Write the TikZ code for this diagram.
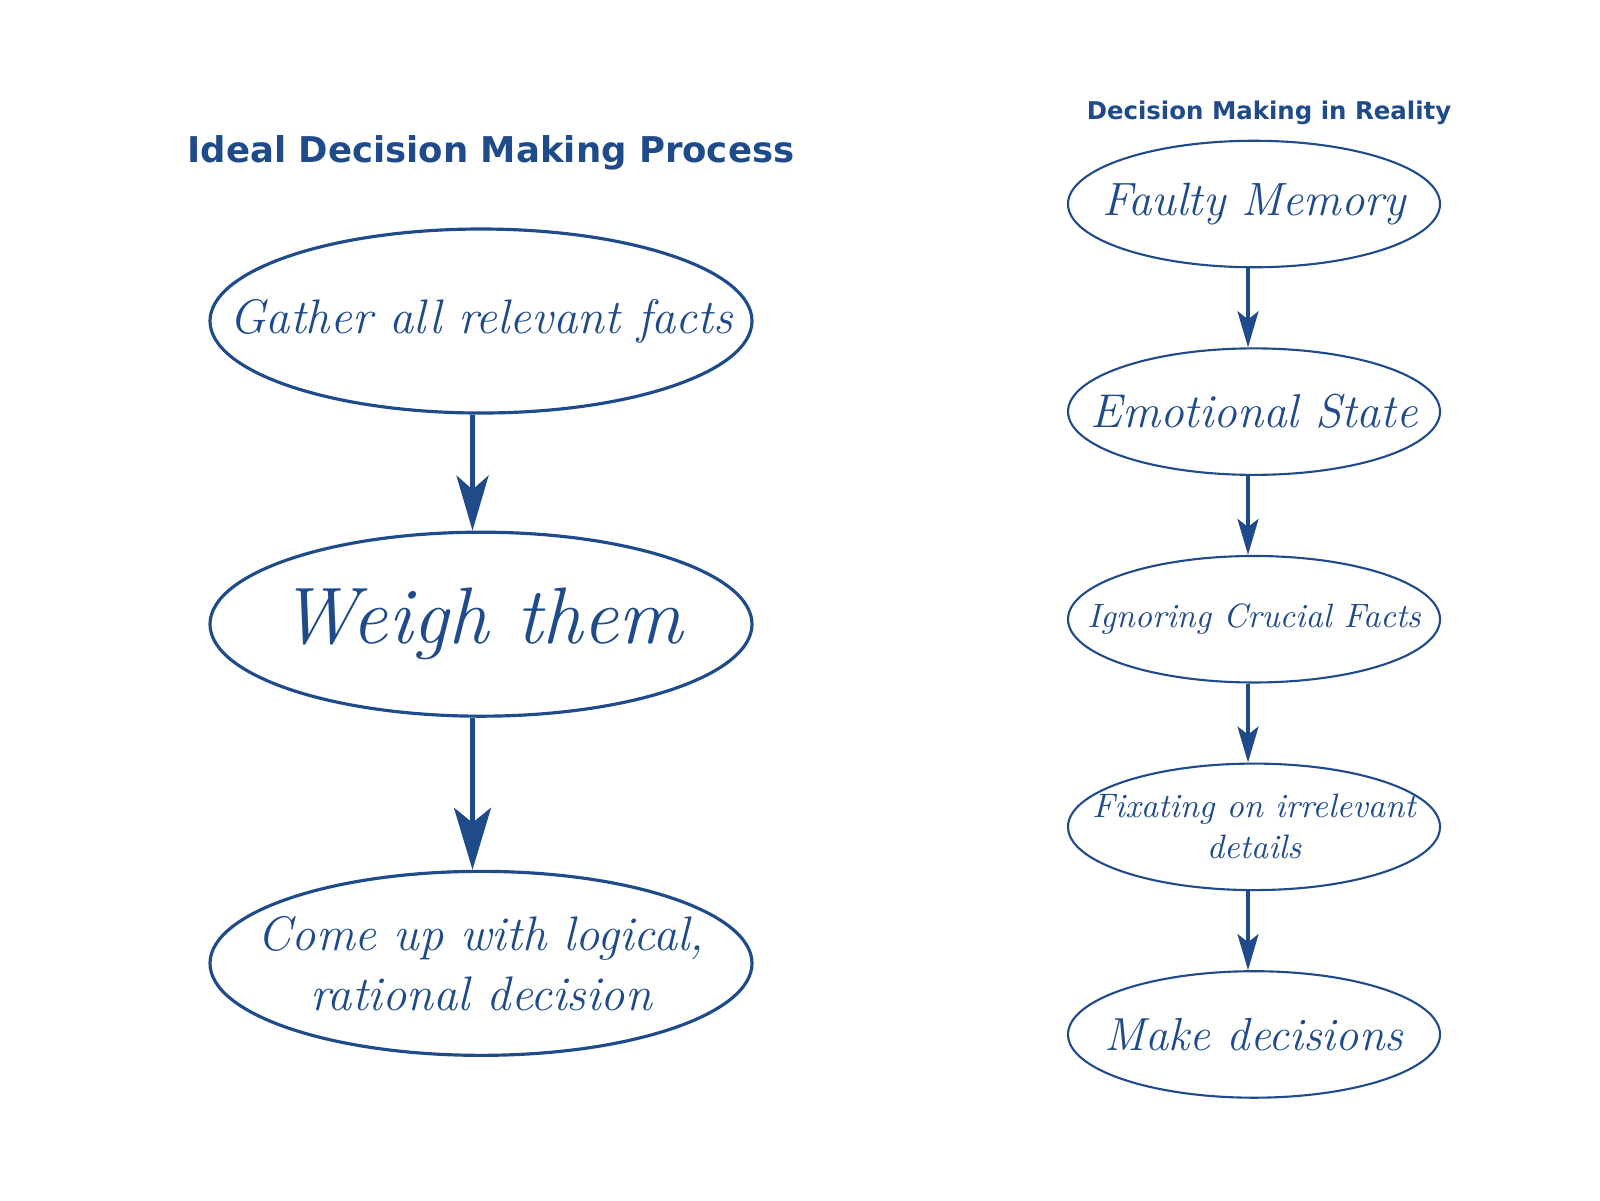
\documentclass[tikz,border=0pt]{standalone}
\usepackage{fontspec}
\newfontfamily\titlefont{DejaVu Sans}
\usetikzlibrary{positioning, arrows.meta, shapes.geometric}
\definecolor{deepblue}{RGB}{31,75,138}

\begin{document}
\begin{tikzpicture}[node distance=0.79cm,
    every node/.style={text=deepblue},
    heading/.style={font=\titlefont\bfseries\fontsize{10.1}{12}\selectfont},
    subheading/.style={font=\titlefont\bfseries\fontsize{6.95}{8}\selectfont},
    idea/.style={draw=deepblue, ellipse, line width=0.9pt, minimum width=5.42cm, minimum height=1.84cm, inner xsep=-3cm, inner ysep=-1cm, align=center, font=\itshape\fontsize{13.8}{17}\selectfont},
    reality/.style={draw=deepblue, ellipse, line width=0.6pt, minimum width=3.72cm, minimum height=1.265cm, inner xsep=-2cm, inner ysep=-1cm, align=center, font=\itshape\fontsize{13.3}{12}\selectfont},
    bigarrow/.style={draw=deepblue, line width=1.4pt, -{Stealth[length=5.5mm, width=3.2mm, inset=1.4mm]}},
    hugearrow/.style={draw=deepblue, line width=1.4pt, -{Stealth[length=6.2mm, width=3.7mm, inset=1.5mm]}},
    smallarrow/.style={draw=deepblue, line width=1pt, -{Stealth[length=3.6mm, width=2.1mm, inset=0.8mm]}}]
    \useasboundingbox (0,0) rectangle (16,-12);

    % ideal process
    \node[heading] (ideal) at (4.91,-1.53) {Ideal Decision Making Process};
    \node[idea] (gather) at (4.81,-3.21) {Gather all relevant facts};
    \node[idea, below=1.16cm of gather, font=\itshape\fontsize{22.8}{24}\selectfont] (weigh) {Weigh them};
    \node[idea, below=1.52cm of weigh] (logical) {Come up with logical,\\rational decision};

    \draw[bigarrow] ([xshift=-0.085cm]gather.south) -- ([xshift=-0.085cm]weigh.north);
    \draw[hugearrow] ([xshift=-0.085cm]weigh.south) -- ([xshift=-0.085cm]logical.north);

    % reality
    \node[subheading] (real) at (12.69,-1.13) {Decision Making in Reality};
    \node[reality] (memory) at (12.54,-2.04) {Faulty Memory};
    \node[reality, below=of memory, font=\itshape\fontsize{13.5}{12}\selectfont] (emotion) {Emotional State};
    \node[reality, below=of emotion, font=\itshape\fontsize{9.6}{12}\selectfont] (ignore) {Ignoring Crucial Facts};
    \node[reality, below=of ignore, font=\itshape\fontsize{9.65}{11.7}\selectfont] (fixate) {Fixating on irrelevant\\details};
    \node[reality, below=of fixate, font=\itshape\fontsize{13.2}{12}\selectfont] (make) {Make decisions};

    \draw[smallarrow] ([xshift=-0.06cm]memory.south) -- ([xshift=-0.06cm]emotion.north);
    \draw[smallarrow] ([xshift=-0.06cm]emotion.south) -- ([xshift=-0.06cm]ignore.north);
    \draw[smallarrow] ([xshift=-0.06cm]ignore.south) -- ([xshift=-0.06cm]fixate.north);
    \draw[smallarrow] ([xshift=-0.06cm]fixate.south) -- ([xshift=-0.06cm]make.north);
\end{tikzpicture}
\end{document}
